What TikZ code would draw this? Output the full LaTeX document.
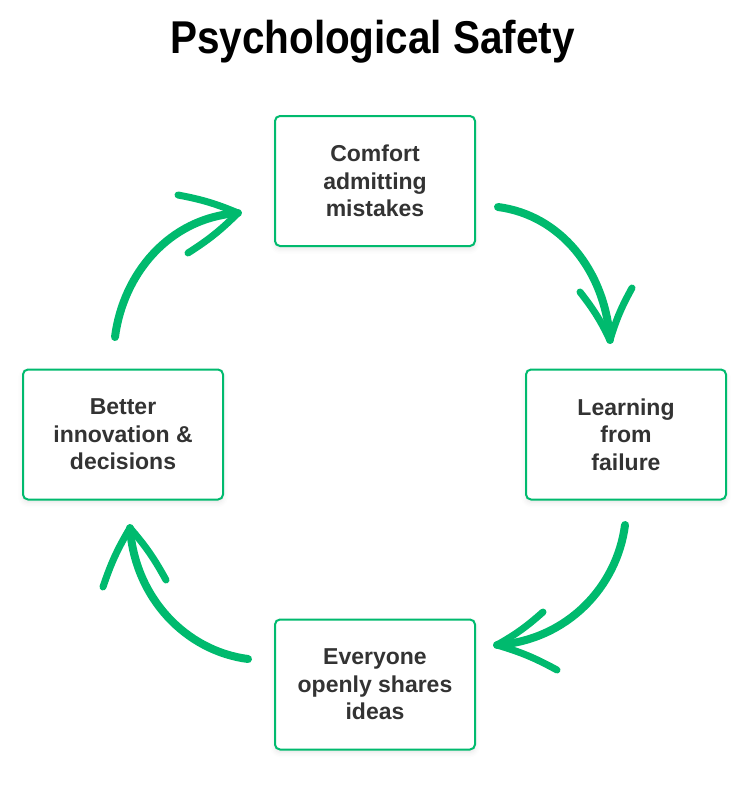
\documentclass[tikz,border=0pt]{standalone}
\usepackage{fontspec}
\setmainfont{Liberation Sans}
\newfontfamily\titlefont[FakeStretch=0.88]{Liberation Sans}
\usetikzlibrary{shadows.blur}
\definecolor{safegreen}{RGB}{0,186,110}
\definecolor{stagetext}{RGB}{51,51,51}
\tikzset{
stage/.style={draw=safegreen, line width=2pt, rounded corners=5pt, fill=white,
  minimum width=200pt, minimum height=130pt, align=center, text=stagetext,
  font=\fontsize{23}{27.5}\selectfont\bfseries,
  blur shadow={shadow xshift=0pt, shadow yshift=-3pt, shadow blur radius=5pt, shadow opacity=10}},
loopline/.style={draw=safegreen, line width=8pt, line cap=round, line join=round},
barbline/.style={loopline, line width=7pt},
}

\begin{document}
\begin{tikzpicture}[x=1pt, y=-1pt]
\useasboundingbox (0,0) rectangle (750,800);
\node[font=\titlefont\fontsize{46}{50}\selectfont\bfseries, anchor=base] (title) at (372.5,53) {Psychological Safety};

\node[stage] (comfort) at (375,181) {Comfort\\admitting\\mistakes};
\node[stage] (learning) at (626,434.5) {Learning\\from\\failure};
\node[stage] (ideas) at (375,684.5) {Everyone\\openly shares\\ideas};
\node[stage] (better) at (123,434.5) {Better\\innovation \&\\decisions};

\foreach \s/\ca/\cb/\t/\ba/\bb [count=\i] in {
  {498,207}/{560,215}/{605,270}/{610,340}/{580,292}/{632,288},
  {625,525}/{617,587}/{567,640}/{497,645}/{543,612}/{557,670},
  {248,659}/{186,651}/{135,598}/{130,528}/{103,587}/{166,580},
  {115,337}/{123,275}/{168,218}/{238,213}/{178,195}/{188,253}}{
  \coordinate (start\i) at (\s);
  \coordinate (tip\i) at (\t);
  \coordinate (barbA\i) at (\ba);
  \coordinate (barbB\i) at (\bb);
  \draw[loopline] (start\i) .. controls (\ca) and (\cb) .. (tip\i);
  \draw[barbline] (barbA\i) to[bend left=6] (tip\i) to[bend left=6] (barbB\i);
}
\end{tikzpicture}
\end{document}
